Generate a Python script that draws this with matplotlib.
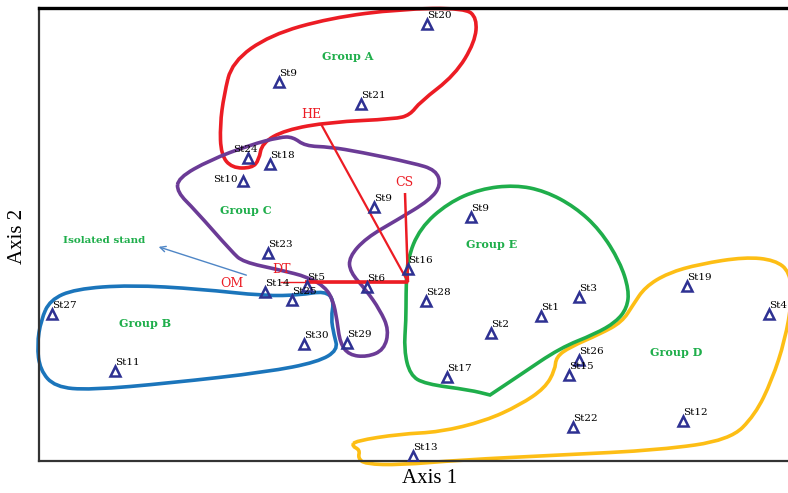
import numpy as np
import matplotlib.pyplot as plt
from matplotlib.path import Path
from matplotlib.patches import PathPatch

# ---- data (ordination scores, plotted in picture units, y grows downward) ----
stations = ['St20', 'St9', 'St21', 'St24', 'St18', 'St10', 'St9', 'St23', 'St14', 'St5',
            'St25', 'St6', 'St16', 'St28', 'St30', 'St29', 'St27', 'St11', 'St9', 'St3',
            'St1', 'St2', 'St17', 'St26', 'St15', 'St22', 'St12', 'St19', 'St4', 'St13']
axis1 = [427, 279, 361, 248, 270, 243, 374, 268, 265, 307,
         292, 367, 408, 426, 304, 347, 52, 115, 471, 579,
         541, 491, 447, 579, 569, 573, 683, 687, 769, 413]
axis2 = [24, 82, 104, 158, 164, 181, 207, 253, 292, 286,
         300, 287, 269, 301, 344, 343, 314, 371, 217, 297,
         316, 333, 377, 360, 375, 427, 421, 286, 314, 456]

# group outlines (control points)
group_a = [(232, 62), (270, 35), (330, 18), (400, 9), (465, 8), (477, 18), (475, 42),
           (455, 75), (420, 102), (410, 115), (395, 119), (330, 122), (285, 130),
           (262, 143), (259, 160), (252, 168), (232, 168), (221, 155), (220, 125), (224, 95)]
group_b = [(50, 300), (75, 289), (130, 285), (200, 289), (265, 296), (300, 295), (325, 291),
           (334, 300), (331, 318), (334, 335), (338, 350), (318, 362), (267, 372),
           (170, 383), (90, 390), (55, 387), (40, 370), (37, 345), (41, 320)]
group_c = [(178, 178), (210, 160), (250, 145), (280, 137), (293, 137), (305, 146), (330, 147),
           (360, 152), (413, 163), (436, 170), (441, 185), (430, 200), (397, 220), (366, 238),
           (349, 257), (350, 272), (366, 290), (380, 310), (389, 330), (384, 350), (367, 357),
           (349, 355), (340, 343), (337, 320), (333, 300), (325, 287), (308, 277), (280, 270),
           (243, 262), (232, 252), (195, 210), (177, 192)]
group_d = [(355, 441), (400, 434), (440, 432), (485, 421), (520, 405), (545, 388), (555, 370),
           (556, 357), (570, 347), (600, 334), (622, 322), (633, 305), (645, 287), (668, 273),
           (700, 264), (745, 257), (775, 260), (790, 272), (792, 300), (785, 340), (772, 380),
           (755, 415), (730, 440), (660, 450), (560, 455), (460, 460), (400, 465), (365, 464),
           (358, 458), (360, 450), (352, 446)]
group_e = [(407, 260), (420, 228), (448, 203), (480, 189), (515, 185), (545, 191), (575, 207),
           (600, 230), (620, 262), (629, 290), (627, 308), (616, 322), (595, 334), (560, 348),
           (520, 375), (490, 395), (490, 395), (470, 390), (425, 384), (410, 375), (404, 350),
           (406, 320), (406, 295)]

group_names = ['Group A', 'Group B', 'Group C', 'Group D', 'Group E']
group_x = [348, 145, 246, 676, 492]
group_y = [57, 324, 211, 353, 245]

# environmental vectors
origin = (408, 282)
vec_names = ['HE', 'CS', 'DT', 'OM']
vec_x = [321, 405, 305, 280]
vec_y = [124, 193, 282, 282]
vec_lab_x = [311, 404, 282, 232]
vec_lab_y = [115, 183, 270, 284]


def closed_curve(pts):
    pts = np.asarray(pts, float)
    mids = (pts + np.roll(pts, -1, axis=0)) / 2
    verts = [mids[-1]]
    codes = [Path.MOVETO]
    for i in range(len(pts)):
        verts += [pts[i], mids[i]]
        codes += [Path.CURVE3, Path.CURVE3]
    return Path(verts, codes)


fig = plt.figure(figsize=(7.88, 4.93), dpi=100)
ax = fig.add_axes([39/788, 32/493, 761/788, 453/493])
ax.set_xlim(39, 800)
ax.set_ylim(461, 8)

outlines = [(group_a, '#ec1c24'), (group_b, '#1b75bb'), (group_c, '#6b3b96'),
            (group_d, '#fdbe15'), (group_e, '#1fae4b')]
for pts, col in outlines:
    ax.add_patch(PathPatch(closed_curve(pts), fill=False, edgecolor=col, lw=2.6,
                           clip_on=False, zorder=2))

# vectors
lws = [1.6, 1.8, 2.6, 1.0]
for i in range(len(vec_names)):
    ax.plot([origin[0], vec_x[i]], [origin[1], vec_y[i]], color='#ec1c24', lw=lws[i],
            solid_capstyle='butt', zorder=3)
    ax.text(vec_lab_x[i], vec_lab_y[i], vec_names[i], color='#ec1c24', fontsize=9,
            family='DejaVu Serif', ha='center', va='center', zorder=4)

ax.annotate('', xy=(156, 246), xytext=(249, 276),
            arrowprops=dict(arrowstyle='->', color='#4f86c6', lw=1.0))
ax.text(104, 241, 'Isolated stand', color='#1fae4b', fontsize=7.5, fontweight='bold',
        family='DejaVu Serif', ha='center', va='center')

for i in range(len(group_names)):
    ax.text(group_x[i], group_y[i], group_names[i], color='#1fae4b', fontsize=8,
            fontweight='bold', family='DejaVu Serif', ha='center', va='center')

# stations
ax.plot(axis1, axis2, ls='none', marker='^', ms=7.5, mfc='none', mec='#2e3192', mew=1.8,
        zorder=5)
for i, name in enumerate(stations):
    if name == 'St10':
        ax.annotate(name, (axis1[i], axis2[i]), xytext=(-4, 1), textcoords='offset points',
                    ha='right', va='center', fontsize=7.5, family='DejaVu Serif', zorder=6)
    elif name == 'St24':
        ax.annotate(name, (axis1[i], axis2[i]), xytext=(-11, 3), textcoords='offset points',
                    ha='left', va='bottom', fontsize=7.5, family='DejaVu Serif', zorder=6)
    else:
        ax.annotate(name, (axis1[i], axis2[i]), xytext=(0, 3), textcoords='offset points',
                    ha='left', va='bottom', fontsize=7.5, family='DejaVu Serif', zorder=6)

ax.set_xticks([])
ax.set_yticks([])
ax.spines['right'].set_visible(False)
ax.spines['top'].set_linewidth(2.4)
ax.spines['top'].set_color('black')
ax.spines['left'].set_linewidth(1.6)
ax.spines['left'].set_color('#333333')
ax.spines['bottom'].set_linewidth(1.6)
ax.spines['bottom'].set_color('#333333')

ax.set_xlabel('Axis 1', fontsize=15, family='Liberation Serif')
ax.xaxis.set_label_coords((430 - 39) / 761, -0.018)
ax.set_ylabel('Axis 2', fontsize=15, family='Liberation Serif')
ax.yaxis.set_label_coords(-0.016, (461 - 236) / 453)

fig.savefig('out.png', dpi=100)
